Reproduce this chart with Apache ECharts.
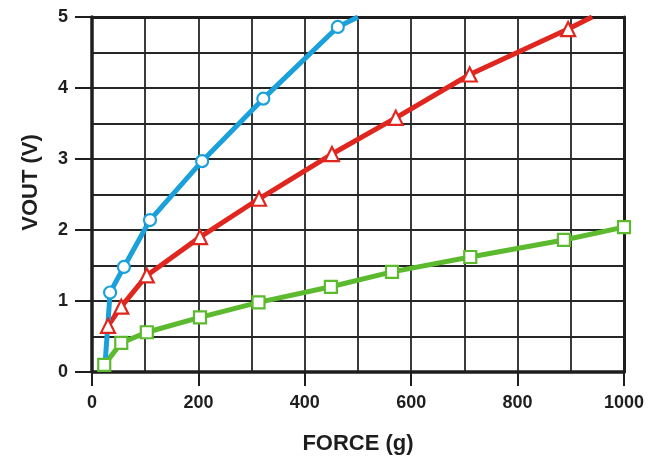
<!DOCTYPE html>
<html>
<head>
<meta charset="utf-8">
<script src="https://cdn.jsdelivr.net/npm/echarts@6/dist/echarts.min.js"></script>
<style>html,body{margin:0;padding:0;background:#fff}#c{width:651px;height:460px}</style>
</head>
<body>
<div id="c"></div>
<script>
// Force (g) / Vout (V) pairs
const blueForce  = [24, 34, 60, 109, 207, 322, 462, 500];
const blueVout   = [0.05, 1.12, 1.48, 2.14, 2.97, 3.85, 4.86, 5.0];
const redForce   = [30, 55, 103, 203, 314, 451, 571, 710, 895, 940];
const redVout    = [0.65, 0.92, 1.36, 1.90, 2.44, 3.07, 3.58, 4.19, 4.83, 5.0];
const greenForce = [23, 55, 103, 203, 313, 449, 564, 711, 887, 1000];
const greenVout  = [0.10, 0.41, 0.56, 0.77, 0.98, 1.20, 1.41, 1.62, 1.86, 2.04];
const xTicks = [0, 200, 400, 600, 800, 1000];
const yTicks = [0, 1, 2, 3, 4, 5];

// endpoints that only carry the line to an edge have no marker
const blueHidden = [0, 7];
const redHidden = [9];
const greenHidden = [];

function pairs(xs, ys, hidden) {
  return xs.map((x, i) => hidden.includes(i)
    ? { value: [x, ys[i]], symbol: 'none' }
    : [x, ys[i]]);
}

const font = '"Liberation Sans", Arial, sans-serif';
const ink = '#1e1e1e';
const gridLine = { show: true, lineStyle: { color: '#262626', width: 1.8 } };

const chart = echarts.init(document.getElementById('c'), null, { renderer: 'canvas' });

function mkSeries(name, xs, ys, hidden, color, symbol, size) {
  return {
    name, type: 'line', xAxisIndex: 0, yAxisIndex: 0,
    data: pairs(xs, ys, hidden),
    symbol, symbolSize: size, showAllSymbol: true,
    lineStyle: { color, width: 5 },
    itemStyle: { color: '#ffffff', borderColor: color, borderWidth: 2.2 },
    emphasis: { disabled: true },
    z: 5, clip: true, animation: false
  };
}

chart.setOption({
  animation: false,
  backgroundColor: '#ffffff',
  grid: { left: 92, right: 27, top: 17, bottom: 86, containLabel: false },
  xAxis: [{
    type: 'value', min: 0, max: 1000, interval: 200,
    name: 'FORCE (g)', nameLocation: 'middle', nameGap: 61,
    nameTextStyle: { fontFamily: font, fontWeight: 'bold', fontSize: 22, color: ink },
    axisLine: { show: true, onZero: false, lineStyle: { color: ink, width: 3.5 } },
    axisTick: { show: true, length: 14, lineStyle: { color: ink, width: 2 } },
    axisLabel: { fontFamily: font, fontWeight: 'bold', fontSize: 18, color: ink, margin: 22,
      formatter: v => xTicks.includes(v) ? String(v) : '' },
    splitLine: gridLine,
    minorTick: { show: false, splitNumber: 2 },
    minorSplitLine: gridLine
  }, {
    type: 'value', min: 0, max: 1000, position: 'top',
    axisLine: { show: true, onZero: false, lineStyle: { color: ink, width: 3 } },
    axisTick: { show: false }, axisLabel: { show: false }, splitLine: { show: false }
  }],
  yAxis: [{
    type: 'value', min: 0, max: 5, interval: 1,
    name: 'VOUT (V)', nameLocation: 'middle', nameGap: 50,
    nameTextStyle: { fontFamily: font, fontWeight: 'bold', fontSize: 22, color: ink, padding: [0, 0, 0, 24] },
    axisLine: { show: true, onZero: false, lineStyle: { color: ink, width: 3.5 } },
    axisTick: { show: true, length: 17, lineStyle: { color: ink, width: 2 } },
    axisLabel: { fontFamily: font, fontWeight: 'bold', fontSize: 18, color: ink, margin: 24,
      formatter: v => yTicks.includes(v) ? String(v) : '' },
    splitLine: gridLine,
    minorTick: { show: false, splitNumber: 2 },
    minorSplitLine: gridLine
  }, {
    type: 'value', min: 0, max: 5, position: 'right',
    axisLine: { show: true, onZero: false, lineStyle: { color: ink, width: 3 } },
    axisTick: { show: false }, axisLabel: { show: false }, splitLine: { show: false }
  }],
  series: [
    mkSeries('green', greenForce, greenVout, greenHidden, '#5cba2e', 'rect', 12),
    mkSeries('red', redForce, redVout, redHidden, '#e0271f', 'triangle', 14),
    mkSeries('blue', blueForce, blueVout, blueHidden, '#1aa0db', 'circle', 12)
  ]
});
</script>
</body>
</html>
